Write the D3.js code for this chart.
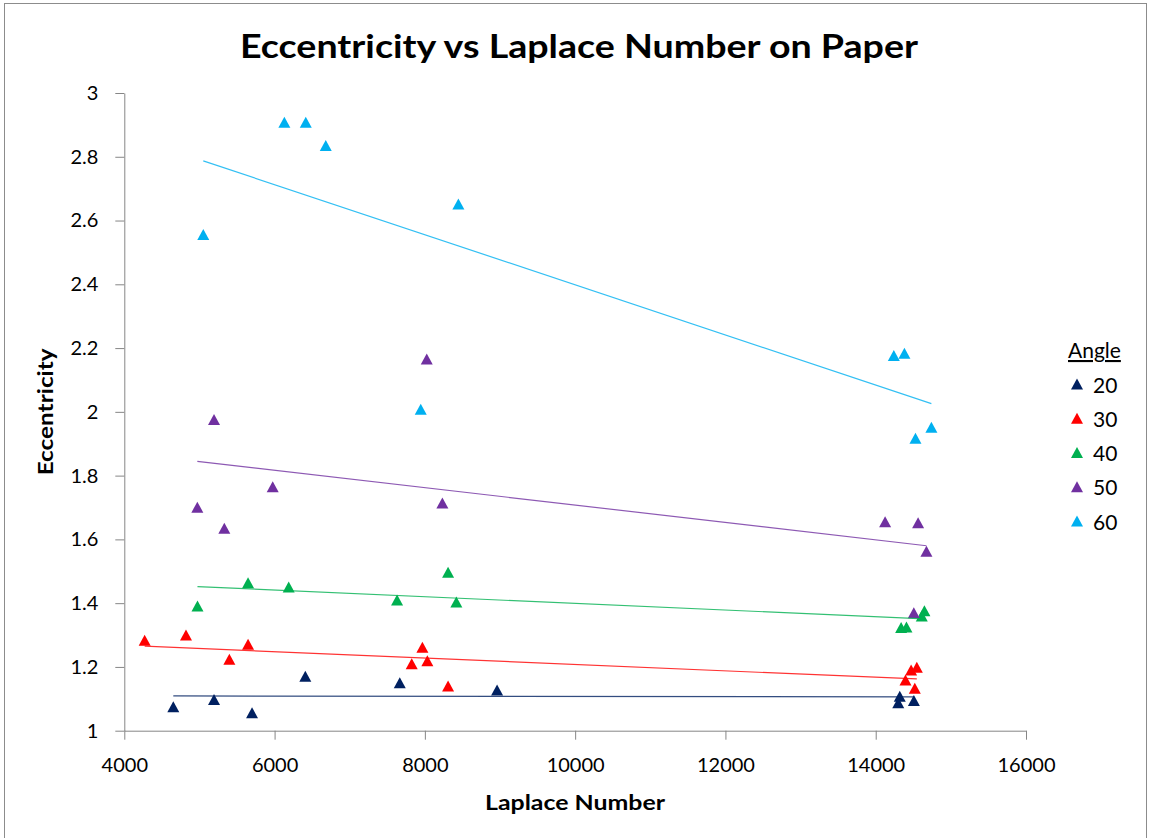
<!DOCTYPE html>
<html>
<head>
<meta charset="utf-8">
<script src="https://cdn.jsdelivr.net/npm/d3@7"></script>
<style>
  html, body { margin: 0; padding: 0; background: #fff; }
  svg { display: block; font-family: Lato, "Open Sans", sans-serif; }
</style>
</head>
<body>
<svg id="chart" width="1151" height="838"></svg>
<script>
// ---- Data ----
const angles = [20, 30, 40, 50, 60];
const colors = ["#002060", "#FF0000", "#00B050", "#7030A0", "#00B0F0"];

const laplace20 = [4652, 5194, 5700, 6409, 7666, 8961, 14300, 14320, 14508];
const ecc20     = [1.075, 1.098, 1.056, 1.171, 1.150, 1.128, 1.088, 1.108, 1.095];

const laplace30 = [4271, 4821, 5398, 5647, 7825, 7967, 8033, 8309, 14396, 14471, 14547, 14520];
const ecc30     = [1.284, 1.300, 1.224, 1.271, 1.210, 1.262, 1.219, 1.140, 1.159, 1.190, 1.199, 1.133];

const laplace40 = [4974, 5647, 6188, 7630, 8309, 8419, 14338, 14409, 14613, 14648];
const ecc40     = [1.391, 1.464, 1.451, 1.410, 1.497, 1.404, 1.324, 1.325, 1.360, 1.376];

const laplace50 = [5194, 4972, 5331, 5975, 8233, 8025, 14125, 14564, 14675, 14507];
const ecc50     = [1.976, 1.701, 1.635, 1.765, 1.714, 2.166, 1.655, 1.652, 1.563, 1.370];

const laplace60 = [5051, 6130, 6415, 6681, 8446, 7945, 14241, 14382, 14529, 14741];
const ecc60     = [2.556, 2.908, 2.908, 2.835, 2.652, 2.008, 2.177, 2.184, 1.917, 1.952];

const xTicks = [4000, 6000, 8000, 10000, 12000, 14000, 16000];
const yTicks = [1, 1.2, 1.4, 1.6, 1.8, 2, 2.2, 2.4, 2.6, 2.8, 3];

const titleText = "Eccentricity vs Laplace Number on Paper";
const xTitle = "Laplace Number";
const yTitle = "Eccentricity";
const legendTitle = "Angle";

(function () {
// ---- Build series ----
const xs = [laplace20, laplace30, laplace40, laplace50, laplace60];
const ys = [ecc20, ecc30, ecc40, ecc50, ecc60];
const series = angles.map((a, i) => ({
  angle: a,
  color: colors[i],
  points: xs[i].map((xv, j) => ({ x: xv, y: ys[i][j] }))
}));

// ---- Layout ----
const svg = d3.select("#chart");
const pL = 124.3, pR = 1026, pT = 93, pB = 730.7;

const x = d3.scaleLinear().domain([4000, 16000]).range([pL, pR]);
const y = d3.scaleLinear().domain([1, 3]).range([pB, pT]);

// chart border
svg.append("rect")
  .attr("x", 4.5).attr("y", 3.5)
  .attr("width", 1142).attr("height", 845)
  .attr("fill", "none").attr("stroke", "#8c8c8c").attr("stroke-width", 1);

// title
svg.append("text")
  .attr("x", 579).attr("y", 58)
  .attr("text-anchor", "middle")
  .attr("font-size", 33).attr("font-weight", "bold")
  .attr("textLength", 678).attr("lengthAdjust", "spacingAndGlyphs")
  .attr("fill", "#000")
  .text(titleText);

// axes
const axisColor = "#868686";
const xAxis = d3.axisBottom(x).tickValues(xTicks).tickFormat(d3.format("d"))
  .tickSize(9).tickSizeOuter(0).tickPadding(18);
const yAxis = d3.axisLeft(y).tickValues(yTicks).tickFormat(d => String(+d.toFixed(1)))
  .tickSize(9).tickSizeOuter(0).tickPadding(17);

const gx = svg.append("g").attr("transform", `translate(0,${pB})`).call(xAxis);
const gy = svg.append("g").attr("transform", `translate(${pL},0)`).call(yAxis);
[gx, gy].forEach(g => {
  g.select(".domain").attr("stroke", axisColor);
  g.selectAll(".tick line").attr("stroke", axisColor);
  g.selectAll(".tick text").attr("fill", "#000").attr("font-size", 20)
    .attr("font-family", "Lato, 'Open Sans', sans-serif");
});

// axis titles
svg.append("text")
  .attr("x", 575).attr("y", 810)
  .attr("text-anchor", "middle")
  .attr("font-size", 21).attr("font-weight", "bold")
  .attr("textLength", 180).attr("lengthAdjust", "spacingAndGlyphs")
  .text(xTitle);

svg.append("text")
  .attr("transform", `translate(53,${(pT + pB) / 2}) rotate(-90)`)
  .attr("text-anchor", "middle")
  .attr("font-size", 21).attr("font-weight", "bold")
  .attr("textLength", 127).attr("lengthAdjust", "spacingAndGlyphs")
  .text(yTitle);

// marker shape
const tri = "M0,-5.5L6,5.5L-6,5.5Z";

// markers + trendlines
const plot = svg.append("g");
series.forEach(s => {
  plot.append("g").selectAll("path")
    .data(s.points).join("path")
    .attr("d", tri)
    .attr("transform", d => `translate(${x(d.x)},${y(d.y)})`)
    .attr("fill", s.color);
});
series.forEach(s => {
  // least squares trendline over the series' x range
  const mx = d3.mean(s.points, d => d.x), my = d3.mean(s.points, d => d.y);
  const sxy = d3.sum(s.points, d => (d.x - mx) * (d.y - my));
  const sxx = d3.sum(s.points, d => (d.x - mx) ** 2);
  const slope = sxy / sxx, icpt = my - slope * mx;
  const [x0, x1] = d3.extent(s.points, d => d.x);
  plot.append("line")
    .attr("x1", x(x0)).attr("y1", y(icpt + slope * x0))
    .attr("x2", x(x1)).attr("y2", y(icpt + slope * x1))
    .attr("stroke", s.color).attr("stroke-width", 1.2).attr("stroke-opacity", 0.8);
});

// legend
const lg = svg.append("g");
lg.append("text")
  .attr("x", 1068).attr("y", 358)
  .attr("font-size", 21)
  .attr("text-decoration", "underline")
  .text(legendTitle);
const rowY = d3.scaleLinear().domain([0, 4]).range([384, 521]);
series.forEach((s, i) => {
  lg.append("path").attr("d", tri)
    .attr("transform", `translate(1077,${rowY(i)})`)
    .attr("fill", s.color);
  lg.append("text")
    .attr("x", 1093).attr("y", rowY(i))
    .attr("dominant-baseline", "central")
    .attr("font-size", 21)
    .text(s.angle);
});
})();
</script>
</body>
</html>
